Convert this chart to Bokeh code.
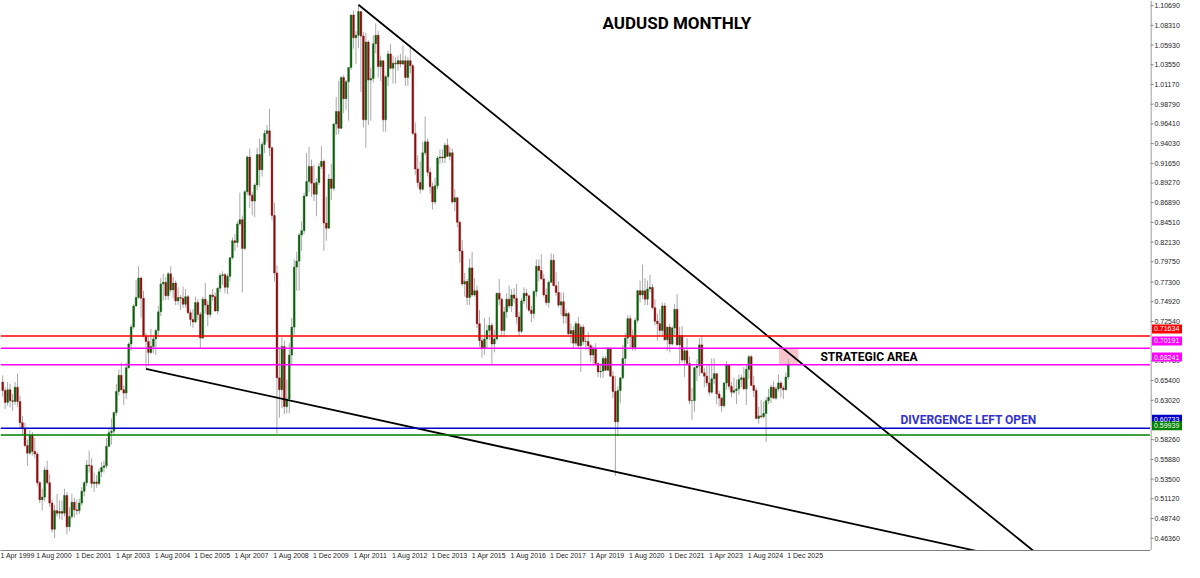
from bokeh.plotting import figure
from bokeh.layouts import row
from bokeh.models import Range1d, FixedTicker, Span, Label, ColumnDataSource, BoxAnnotation
from bokeh.core.properties import value
from bokeh.embed import file_html
from bokeh.resources import INLINE

# ---------------- data (AUDUSD monthly) ----------------
first_month = "Jul 1999"
first_open = 0.6620

closes = [
    0.6520, 0.6380, 0.6530, 0.6400, 0.6390, 0.6560,  # 1999 Jul-Dec
    0.6390, 0.6140, 0.6070, 0.5870, 0.5780, 0.5990, 0.5800, 0.5770, 0.5430, 0.5230, 0.5260, 0.5580,  # 2000
    0.5430, 0.5190, 0.4880, 0.5100, 0.5070, 0.5090, 0.5070, 0.5280, 0.4910, 0.5030, 0.5200, 0.5110,  # 2001
    0.5100, 0.5190, 0.5330, 0.5430, 0.5640, 0.5630, 0.5420, 0.5440, 0.5420, 0.5560, 0.5610, 0.5630,  # 2002
    0.5860, 0.6020, 0.6040, 0.6260, 0.6510, 0.6700, 0.6530, 0.6490, 0.6790, 0.7070, 0.7270, 0.7520,  # 2003
    0.7620, 0.7850, 0.7610, 0.7160, 0.7100, 0.6970, 0.7040, 0.7130, 0.7230, 0.7450, 0.7780, 0.7800,  # 2004
    0.7640, 0.7900, 0.7710, 0.7790, 0.7580, 0.7620, 0.7610, 0.7540, 0.7630, 0.7440, 0.7360, 0.7330,  # 2005
    0.7560, 0.7420, 0.7140, 0.7600, 0.7530, 0.7420, 0.7650, 0.7630, 0.7460, 0.7730, 0.7880, 0.7890,  # 2006
    0.7740, 0.7870, 0.8090, 0.8290, 0.8270, 0.8490, 0.8540, 0.8200, 0.8870, 0.9280, 0.8830, 0.8760,  # 2007
    0.8950, 0.9310, 0.9130, 0.9430, 0.9560, 0.9590, 0.9390, 0.8590, 0.7910, 0.6670, 0.6530, 0.7040,  # 2008
    0.6330, 0.6420, 0.6940, 0.7270, 0.7980, 0.8050, 0.8360, 0.8410, 0.8820, 0.8990, 0.9170, 0.8970,  # 2009
    0.8840, 0.8980, 0.9170, 0.9230, 0.8500, 0.8440, 0.9020, 0.8910, 0.9670, 0.9820, 0.9620, 1.0220,  # 2010
    0.9970, 1.0170, 1.0340, 1.0960, 1.0690, 1.0720, 1.1000, 1.0710, 0.9720, 1.0640, 1.0190, 1.0210,  # 2011
    1.0620, 1.0720, 1.0350, 1.0420, 0.9720, 1.0230, 1.0500, 1.0330, 1.0390, 1.0380, 1.0420, 1.0380,  # 2012
    1.0420, 1.0220, 1.0420, 1.0360, 0.9560, 0.9140, 0.8980, 0.8900, 0.9330, 0.9460, 0.9100, 0.8930,  # 2013
    0.8750, 0.8940, 0.9270, 0.9280, 0.9270, 0.9420, 0.9290, 0.9330, 0.8750, 0.8800, 0.8510, 0.8170,  # 2014
    0.7780, 0.7810, 0.7620, 0.7970, 0.7650, 0.7700, 0.7310, 0.7110, 0.7020, 0.7130, 0.7230, 0.7290,  # 2015
    0.7070, 0.7130, 0.7670, 0.7600, 0.7230, 0.7450, 0.7600, 0.7520, 0.7650, 0.7610, 0.7390, 0.7220,  # 2016
    0.7580, 0.7670, 0.7640, 0.7470, 0.7430, 0.7690, 0.7990, 0.7940, 0.7840, 0.7650, 0.7560, 0.7800,  # 2017
    0.8060, 0.7760, 0.7680, 0.7530, 0.7570, 0.7400, 0.7430, 0.7190, 0.7230, 0.7080, 0.7310, 0.7050,  # 2018
    0.7270, 0.7100, 0.7100, 0.7050, 0.6940, 0.7020, 0.6840, 0.6740, 0.6750, 0.6900, 0.6760, 0.7020,  # 2019
    0.6690, 0.6510, 0.6150, 0.6520, 0.6670, 0.6900, 0.7140, 0.7370, 0.7160, 0.7030, 0.7350, 0.7700,  # 2020
    0.7650, 0.7700, 0.7600, 0.7720, 0.7740, 0.7500, 0.7340, 0.7310, 0.7230, 0.7520, 0.7120, 0.7270,  # 2021
    0.7070, 0.7260, 0.7480, 0.7060, 0.7170, 0.6880, 0.6990, 0.6840, 0.6400, 0.6400, 0.6790, 0.6810,  # 2022
    0.7060, 0.6730, 0.6690, 0.6610, 0.6500, 0.6660, 0.6720, 0.6480, 0.6430, 0.6340, 0.6610, 0.6820,  # 2023
    0.6570, 0.6500, 0.6520, 0.6540, 0.6650, 0.6670, 0.6540, 0.6770, 0.6920, 0.6580, 0.6520, 0.6190,  # 2024
    0.6220, 0.6210, 0.6250, 0.6400, 0.6440, 0.6560, 0.6430, 0.6540, 0.6610, 0.6550, 0.6530, 0.6680,  # 2025
    0.6830,  # 2026 Jan
]

highs = [
    0.6700, 0.6560, 0.6620, 0.6600, 0.6480, 0.6620,
    0.6720, 0.6460, 0.6220, 0.6140, 0.5940, 0.6050, 0.6030, 0.5960, 0.5790, 0.5450, 0.5360, 0.5620,
    0.5690, 0.5530, 0.5230, 0.5170, 0.5300, 0.5220, 0.5220, 0.5360, 0.5320, 0.5140, 0.5300, 0.5250,
    0.5230, 0.5240, 0.5380, 0.5450, 0.5700, 0.5810, 0.5720, 0.5550, 0.5520, 0.5600, 0.5670, 0.5690,
    0.5960, 0.6080, 0.6190, 0.6270, 0.6600, 0.6770, 0.6850, 0.6580, 0.6850, 0.7090, 0.7300, 0.7540,
    0.7830, 0.7990, 0.7870, 0.7700, 0.7200, 0.7160, 0.7250, 0.7170, 0.7250, 0.7520, 0.7850, 0.7900,
    0.7860, 0.7920, 0.7990, 0.7860, 0.7820, 0.7740, 0.7650, 0.7750, 0.7720, 0.7650, 0.7480, 0.7480,
    0.7630, 0.7600, 0.7450, 0.7630, 0.7790, 0.7580, 0.7660, 0.7720, 0.7680, 0.7740, 0.7910, 0.7930,
    0.7910, 0.7900, 0.8100, 0.8330, 0.8370, 0.8520, 0.8860, 0.8590, 0.8890, 0.9300, 0.9380, 0.8870,
    0.8970, 0.9390, 0.9500, 0.9460, 0.9600, 0.9660, 0.9850, 0.9400, 0.8740, 0.8000, 0.7030, 0.7150,
    0.7110, 0.6650, 0.7080, 0.7380, 0.8070, 0.8160, 0.8380, 0.8520, 0.8860, 0.9330, 0.9400, 0.9250,
    0.9190, 0.9030, 0.9210, 0.9410, 0.9250, 0.8810, 0.9080, 0.9200, 0.9680, 0.9990, 1.0180, 1.0240,
    1.0250, 1.0190, 1.0340, 1.0960, 1.1010, 1.0770, 1.1080, 1.1000, 1.0760, 1.0750, 1.0660, 1.0340,
    1.0720, 1.0860, 1.0770, 1.0480, 1.0420, 1.0250, 1.0540, 1.0620, 1.0480, 1.0460, 1.0480, 1.0500,
    1.0600, 1.0480, 1.0460, 1.0600, 1.0380, 0.9690, 0.9300, 0.9230, 0.9460, 0.9760, 0.9500, 0.9160,
    0.8980, 0.9040, 0.9290, 0.9370, 0.9370, 0.9450, 0.9500, 0.9400, 0.9380, 0.8900, 0.8810, 0.8530,
    0.8300, 0.7910, 0.7840, 0.8080, 0.8160, 0.7850, 0.7760, 0.7470, 0.7150, 0.7380, 0.7300, 0.7390,
    0.7320, 0.7240, 0.7680, 0.7840, 0.7620, 0.7510, 0.7670, 0.7760, 0.7720, 0.7730, 0.7780, 0.7450,
    0.7610, 0.7740, 0.7720, 0.7650, 0.7520, 0.7710, 0.8070, 0.8070, 0.8130, 0.7900, 0.7730, 0.7820,
    0.8140, 0.8130, 0.7920, 0.7810, 0.7680, 0.7680, 0.7480, 0.7450, 0.7310, 0.7280, 0.7340, 0.7390,
    0.7300, 0.7300, 0.7170, 0.7210, 0.7070, 0.7050, 0.7080, 0.6850, 0.6840, 0.6930, 0.6930, 0.7030,
    0.7030, 0.6750, 0.6690, 0.6570, 0.6680, 0.7060, 0.7200, 0.7410, 0.7410, 0.7240, 0.7380, 0.7710,
    0.7820, 0.8010, 0.7850, 0.7820, 0.7890, 0.7780, 0.7600, 0.7430, 0.7480, 0.7560, 0.7560, 0.7280,
    0.7310, 0.7280, 0.7540, 0.7660, 0.7270, 0.7280, 0.7010, 0.7140, 0.6920, 0.6550, 0.6800, 0.6890,
    0.7140, 0.7160, 0.6790, 0.6810, 0.6820, 0.6900, 0.6900, 0.6730, 0.6520, 0.6450, 0.6620, 0.6870,
    0.6830, 0.6620, 0.6670, 0.6650, 0.6710, 0.6710, 0.6800, 0.6820, 0.6940, 0.6940, 0.6690, 0.6550,
    0.6330, 0.6410, 0.6390, 0.6440, 0.6540, 0.6590, 0.6630, 0.6570, 0.6710, 0.6630, 0.6580, 0.6730,
    0.6890,
]

lows = [
    0.6450, 0.6300, 0.6340, 0.6320, 0.6280, 0.6350,
    0.6330, 0.6080, 0.5990, 0.5850, 0.5630, 0.5760, 0.5750, 0.5720, 0.5390, 0.5190, 0.5100, 0.5210,
    0.5410, 0.5140, 0.4840, 0.4775, 0.5030, 0.5000, 0.4990, 0.5030, 0.4820, 0.4860, 0.5000, 0.5020,
    0.5050, 0.5060, 0.5160, 0.5270, 0.5390, 0.5550, 0.5370, 0.5320, 0.5370, 0.5400, 0.5500, 0.5550,
    0.5600, 0.5850, 0.5880, 0.6000, 0.6220, 0.6460, 0.6520, 0.6350, 0.6420, 0.6780, 0.6990, 0.7250,
    0.7510, 0.7600, 0.7380, 0.7150, 0.6780, 0.6810, 0.6950, 0.6960, 0.6940, 0.7170, 0.7400, 0.7580,
    0.7590, 0.7590, 0.7680, 0.7610, 0.7530, 0.7530, 0.7470, 0.7500, 0.7500, 0.7420, 0.7280, 0.7260,
    0.7320, 0.7350, 0.7020, 0.7130, 0.7430, 0.7280, 0.7380, 0.7580, 0.7450, 0.7420, 0.7680, 0.7770,
    0.7670, 0.7660, 0.7810, 0.8070, 0.8170, 0.8210, 0.8470, 0.7680, 0.8180, 0.8830, 0.8680, 0.8590,
    0.8570, 0.8890, 0.8930, 0.9050, 0.9330, 0.9460, 0.9290, 0.8530, 0.7810, 0.6010, 0.6200, 0.6310,
    0.6240, 0.6250, 0.6250, 0.6830, 0.7180, 0.7700, 0.7700, 0.8170, 0.8370, 0.8810, 0.8870, 0.8810,
    0.8760, 0.8580, 0.8950, 0.9140, 0.8170, 0.8290, 0.8430, 0.8770, 0.8880, 0.9540, 0.9550, 0.9610,
    0.9800, 0.9840, 0.9710, 1.0310, 1.0560, 1.0380, 1.0570, 1.0050, 0.9630, 0.9390, 0.9660, 0.9710,
    1.0160, 1.0510, 1.0220, 1.0180, 0.9580, 0.9580, 1.0120, 1.0320, 1.0150, 1.0150, 1.0300, 1.0340,
    1.0370, 1.0120, 1.0120, 1.0270, 0.9540, 0.9070, 0.8920, 0.8850, 0.8880, 0.9300, 0.9050, 0.8850,
    0.8660, 0.8720, 0.8900, 0.9200, 0.9210, 0.9210, 0.9280, 0.9240, 0.8730, 0.8640, 0.8450, 0.8030,
    0.7760, 0.7630, 0.7530, 0.7530, 0.7630, 0.7630, 0.7260, 0.7040, 0.6910, 0.6940, 0.7020, 0.7120,
    0.6830, 0.6970, 0.7110, 0.7530, 0.7150, 0.7150, 0.7380, 0.7490, 0.7450, 0.7550, 0.7310, 0.7160,
    0.7200, 0.7540, 0.7490, 0.7450, 0.7330, 0.7370, 0.7630, 0.7810, 0.7830, 0.7630, 0.7530, 0.7500,
    0.7790, 0.7750, 0.7640, 0.7500, 0.7410, 0.7310, 0.7310, 0.7180, 0.7080, 0.7020, 0.7050, 0.7020,
    0.6740, 0.7060, 0.7000, 0.6990, 0.6860, 0.6830, 0.6830, 0.6680, 0.6670, 0.6670, 0.6750, 0.6750,
    0.6680, 0.6430, 0.5510, 0.5980, 0.6370, 0.6650, 0.6830, 0.7070, 0.7010, 0.6990, 0.6990, 0.7320,
    0.7560, 0.7600, 0.7530, 0.7530, 0.7680, 0.7480, 0.7290, 0.7110, 0.7170, 0.7170, 0.7110, 0.6990,
    0.6970, 0.7050, 0.7170, 0.7050, 0.6830, 0.6850, 0.6680, 0.6830, 0.6360, 0.6170, 0.6270, 0.6630,
    0.6690, 0.6720, 0.6560, 0.6570, 0.6460, 0.6480, 0.6600, 0.6360, 0.6330, 0.6270, 0.6320, 0.6530,
    0.6530, 0.6440, 0.6480, 0.6360, 0.6470, 0.6560, 0.6520, 0.6350, 0.6660, 0.6570, 0.6440, 0.6180,
    0.6130, 0.6190, 0.6190, 0.5910, 0.6360, 0.6370, 0.6420, 0.6410, 0.6510, 0.6440, 0.6420, 0.6520,
    0.6650,
]

# horizontal levels and their price tags
level_values = [0.71634, 0.70191, 0.68241, 0.60733, 0.59939]
level_colors = ["#ff0000", "#ff00ff", "#ff00ff", "#0000c8", "#008000"]

# trend lines (month index from Aug 2000, price)
upper_trend_m = [131, 405]
upper_trend_p = [1.1080, 0.4606]
lower_trend_m = [45, 381]
lower_trend_p = [0.6775, 0.4625]

# strategic area box (months, prices)
area_m = [301.2, 309.1]
area_p = [0.68241, 0.70191]

# axis labels
x_tick_labels = ["1 Apr 1999", "1 Aug 2000", "1 Dec 2001", "1 Apr 2003", "1 Aug 2004", "1 Dec 2005",
                 "1 Apr 2007", "1 Aug 2008", "1 Dec 2009", "1 Apr 2011", "1 Aug 2012", "1 Dec 2013",
                 "1 Apr 2015", "1 Aug 2016", "1 Dec 2017", "1 Apr 2019", "1 Aug 2020", "1 Dec 2021",
                 "1 Apr 2023", "1 Aug 2024", "1 Dec 2025"]
y_tick_labels = ["1.10690", "1.08310", "1.05930", "1.03550", "1.01170", "0.98790", "0.96410",
                 "0.94030", "0.91650", "0.89270", "0.86890", "0.84510", "0.82130", "0.79750",
                 "0.77300", "0.74920", "0.72540", "0.67780", "0.65400", "0.63020", "0.58260",
                 "0.55880", "0.53500", "0.51120", "0.48740", "0.46360"]

# ---------------- build ----------------
MON = {"Jan": 1, "Feb": 2, "Mar": 3, "Apr": 4, "May": 5, "Jun": 6, "Jul": 7, "Aug": 8,
       "Sep": 9, "Oct": 10, "Nov": 11, "Dec": 12}


def month_index(mon, yr):
    return (int(yr) - 2000) * 12 + MON[mon] - 8


m_first = month_index(*first_month.split())
n = len(closes)
xs = [m_first + i for i in range(n)]
opens = [first_open] + closes[:-1]
tops = [max(o, c) for o, c in zip(opens, closes)]
bots = [min(o, c) for o, c in zip(opens, closes)]
fills = ["#0d5e0d" if c >= o else "#8b0d0d" for o, c in zip(opens, closes)]

src = ColumnDataSource(dict(x=xs, high=highs, low=lows, top=tops, bottom=bots, fill=fills))

FRAME_W, FRAME_H, BOTTOM, AXIS_W = 1150, 550, 12, 34
X0, X1 = -13.89, 451.6
Y0, Y1 = 0.4629, 1.1131

p = figure(width=FRAME_W, height=FRAME_H + BOTTOM, x_range=Range1d(X0, X1), y_range=Range1d(Y0, Y1),
           y_axis_location=None, toolbar_location=None, output_backend="svg",
           min_border=0, min_border_left=0, min_border_top=0, min_border_right=0,
           min_border_bottom=BOTTOM,
           background_fill_color="white", border_fill_color="white", outline_line_color=None)
p.xgrid.visible = False
p.ygrid.visible = False

# pink area
p.add_layout(BoxAnnotation(left=area_m[0], right=area_m[1], bottom=area_p[0], top=area_p[1],
                           fill_color="#f8c4cc", fill_alpha=1.0, line_color=None, level="underlay"))

# candles
p.segment(x0="x", y0="low", x1="x", y1="high", line_color="#a8a8a8", line_width=1, source=src)
p.vbar(x="x", width=0.72, top="top", bottom="bottom", fill_color="fill", line_color="fill",
       line_width=0.4, source=src)

# levels
for v, c in zip(level_values, level_colors):
    p.add_layout(Span(location=v, dimension="width", line_color=c, line_width=1.5))

# trend lines
p.line(upper_trend_m, upper_trend_p, line_color="black", line_width=1.8)
p.line(lower_trend_m, lower_trend_p, line_color="black", line_width=1.8)

# bottom axis (labels start just right of their date, as in MT4)
x_months = [month_index(*lab.split()[1:]) for lab in x_tick_labels]
x_pos = [m + 7.8 for m in x_months]
p.xaxis.ticker = FixedTicker(ticks=x_pos)
p.xaxis.major_label_overrides = {xp: lab for xp, lab in zip(x_pos, x_tick_labels)}
p.xaxis.major_tick_out = 0
p.xaxis.major_tick_in = 0
p.xaxis.minor_tick_out = 0
p.xaxis.minor_tick_in = 0
p.xaxis.axis_line_color = "#808080"
p.xaxis.major_label_standoff = 1
p.xaxis.major_label_text_font = "Liberation Sans"
p.xaxis.major_label_text_font_size = "7px"
p.xaxis.major_label_text_color = "#222222"

# texts
p.add_layout(Label(x=259.9, y=1.0870, text="AUDUSD MONTHLY", text_align="center",
                   text_baseline="middle", text_font="Roboto", text_font_style="bold",
                   text_font_size="17px", text_color="black"))
p.add_layout(Label(x=318.0, y=0.6922, text="STRATEGIC AREA", text_align="left",
                   text_baseline="middle", text_font="Roboto", text_font_style="bold",
                   text_font_size="12px", text_color="black"))
p.add_layout(Label(x=350.4, y=0.6166, text="DIVERGENCE LEFT OPEN", text_align="left",
                   text_baseline="middle", text_font="Roboto", text_font_style="bold",
                   text_font_size="12px", text_color="#3333cc"))

# ---------------- right price scale (same pixel mapping as the chart) ----------------
q = figure(width=AXIS_W, height=FRAME_H + BOTTOM, x_range=Range1d(0, AXIS_W),
           y_range=Range1d(Y0 - BOTTOM * (Y1 - Y0) / FRAME_H, Y1),
           x_axis_location=None, y_axis_location=None, toolbar_location=None,
           output_backend="svg", min_border=0, outline_line_color=None,
           background_fill_color="white", border_fill_color="white")
q.xgrid.visible = False
q.ygrid.visible = False

y_vals = [float(s) for s in y_tick_labels]
q.add_layout(Span(location=0.5, dimension="height", line_color="#808080", line_width=1))
q.segment(x0=[0] * len(y_vals), y0=y_vals, x1=[3] * len(y_vals), y1=y_vals,
          line_color="#808080", line_width=1)
q.text(x=[4.0] * len(y_vals), y=y_vals, text=y_tick_labels, text_baseline="middle",
       text_align="left", text_font=value("Liberation Sans"), text_font_size=value("7px"),
       text_color="#222222")

tag_text = [f"{v:.5f}" for v in level_values]
q.rect(x=[16.5] * len(level_values), y=level_values, width=30, height=9, height_units="screen",
       fill_color=level_colors, line_color=None)
q.text(x=[3.5] * len(level_values), y=level_values, text=tag_text, text_baseline="middle",
       text_align="left", text_font=value("Liberation Sans"), text_font_size=value("7px"),
       text_color="white")

layout = row(p, q, spacing=0)
open("out.html", "w").write(file_html(layout, INLINE))
